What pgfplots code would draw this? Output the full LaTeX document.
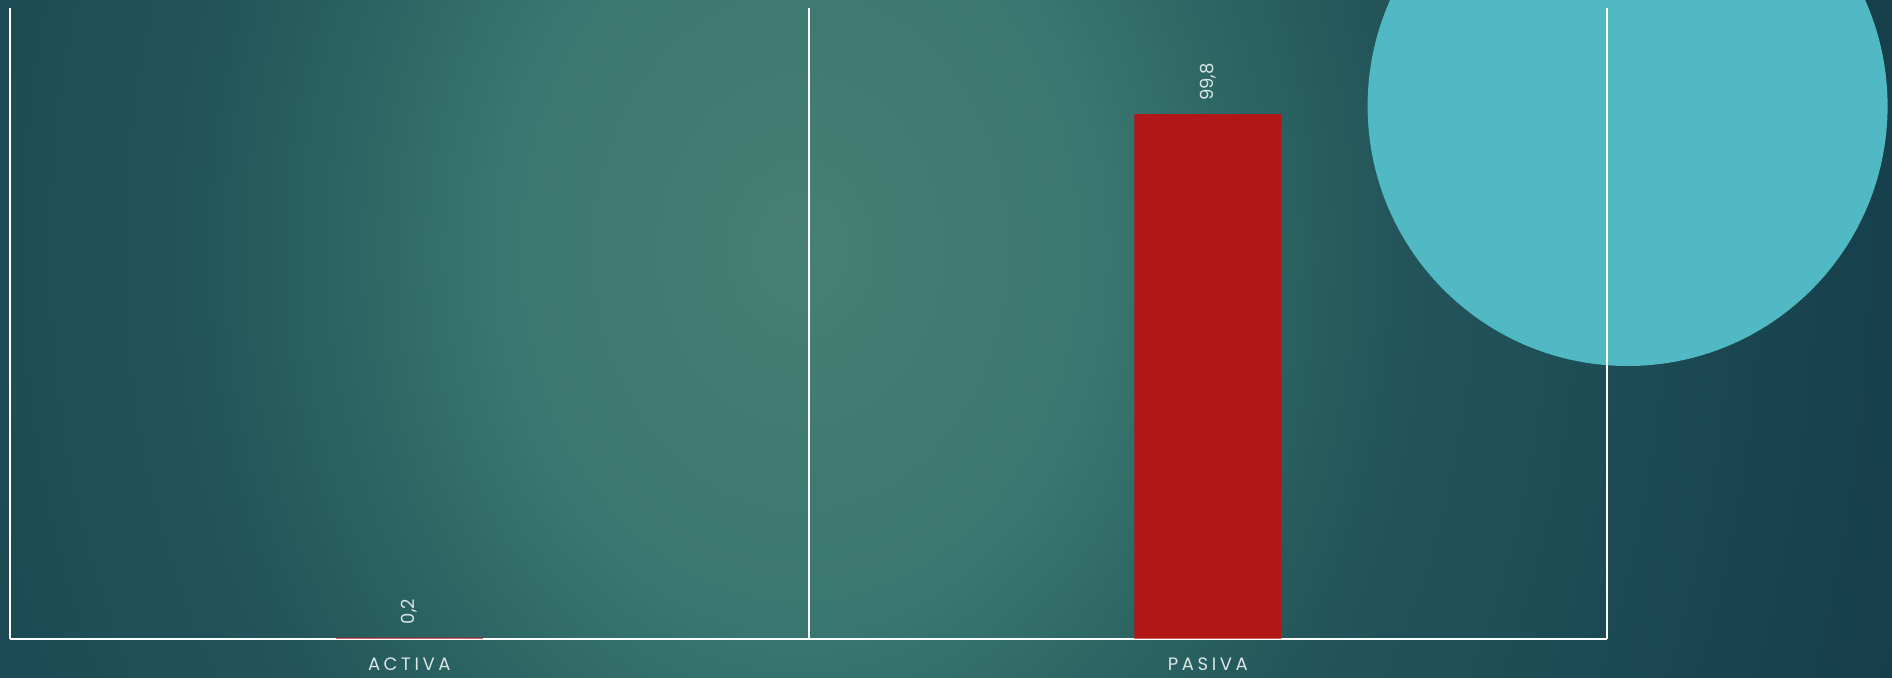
\documentclass[border=0pt]{standalone}
\usepackage{pgfplots}
\pgfplotsset{compat=1.18}
\usepackage{fontspec}
\setmainfont{Poppins}
\definecolor{barred}{HTML}{B01716}
\definecolor{circ}{HTML}{51B9C3}
\definecolor{lbl}{HTML}{DCE5E5}
\definecolor{r0}{HTML}{477F73}
\definecolor{r1}{HTML}{437D72}
\definecolor{r2}{HTML}{3A7770}
\definecolor{r3}{HTML}{2C6563}
\definecolor{r4}{HTML}{22545A}
\definecolor{r5}{HTML}{1F4F57}
\definecolor{r6}{HTML}{1A4752}
\definecolor{r7}{HTML}{163F4B}
\definecolor{r8}{HTML}{133949}
\pgfdeclareradialshading{bgr}{\pgfpoint{0bp}{0bp}}{color(0bp)=(r0); color(40bp)=(r1); color(150bp)=(r2); color(225bp)=(r3); color(305bp)=(r4); color(370bp)=(r5); color(460bp)=(r6); color(550bp)=(r7); color(650bp)=(r8)}
\begin{document}
\begin{tikzpicture}
\useasboundingbox (0,0) rectangle (946pt,338.5pt);
\begin{scope}
\clip (0,0) rectangle (946pt,338.5pt);
\fill[r8] (0,0) rectangle (946pt,338.5pt);
\begin{scope}[shift={(400pt,213.5pt)}, yscale=1.25]
\node[inner sep=0pt, outer sep=0pt, transform shape] at (0,0) {\pgfuseshading{bgr}};
\end{scope}
\fill[circ] (813.8pt,285.5pt) circle (130pt);
\end{scope}
\begin{axis}[
  at={(5pt,19.15pt)}, anchor=south west,
  scale only axis, width=798.5pt, height=315.35pt,
  xmin=-0.5, xmax=1.5, ymin=0, ymax=120,
  axis x line*=bottom, axis y line*=left,
  axis line style={white, line width=1pt, -},
  ytick=\empty,
  xtick={0,1}, xticklabels={ACTIVA,PASIVA},
  major tick length=0pt,
  x tick label style={font=\fontsize{9}{10}\selectfont\addfontfeature{LetterSpace=20}, text=lbl, yshift=-6pt},
  extra x ticks={0.5,1.5}, extra x tick labels={},
  extra x tick style={grid=major, major grid style={white, line width=1pt}, major tick length=0pt},
  ybar, bar width=73.5pt,
  nodes near coords,
  /pgf/number format/.cd, fixed, fixed zerofill, precision=1, use comma, assume math mode=true,
  /pgfplots/.cd,
  every node near coord/.append style={rotate=90, anchor=west, inner xsep=6.5pt, inner ysep=0pt, font=\fontsize{9}{10}\selectfont, text=lbl},
]
\addplot[fill=barred, draw=none] coordinates {(0,0.2) (1,99.8)};
\end{axis}
\end{tikzpicture}
\end{document}
